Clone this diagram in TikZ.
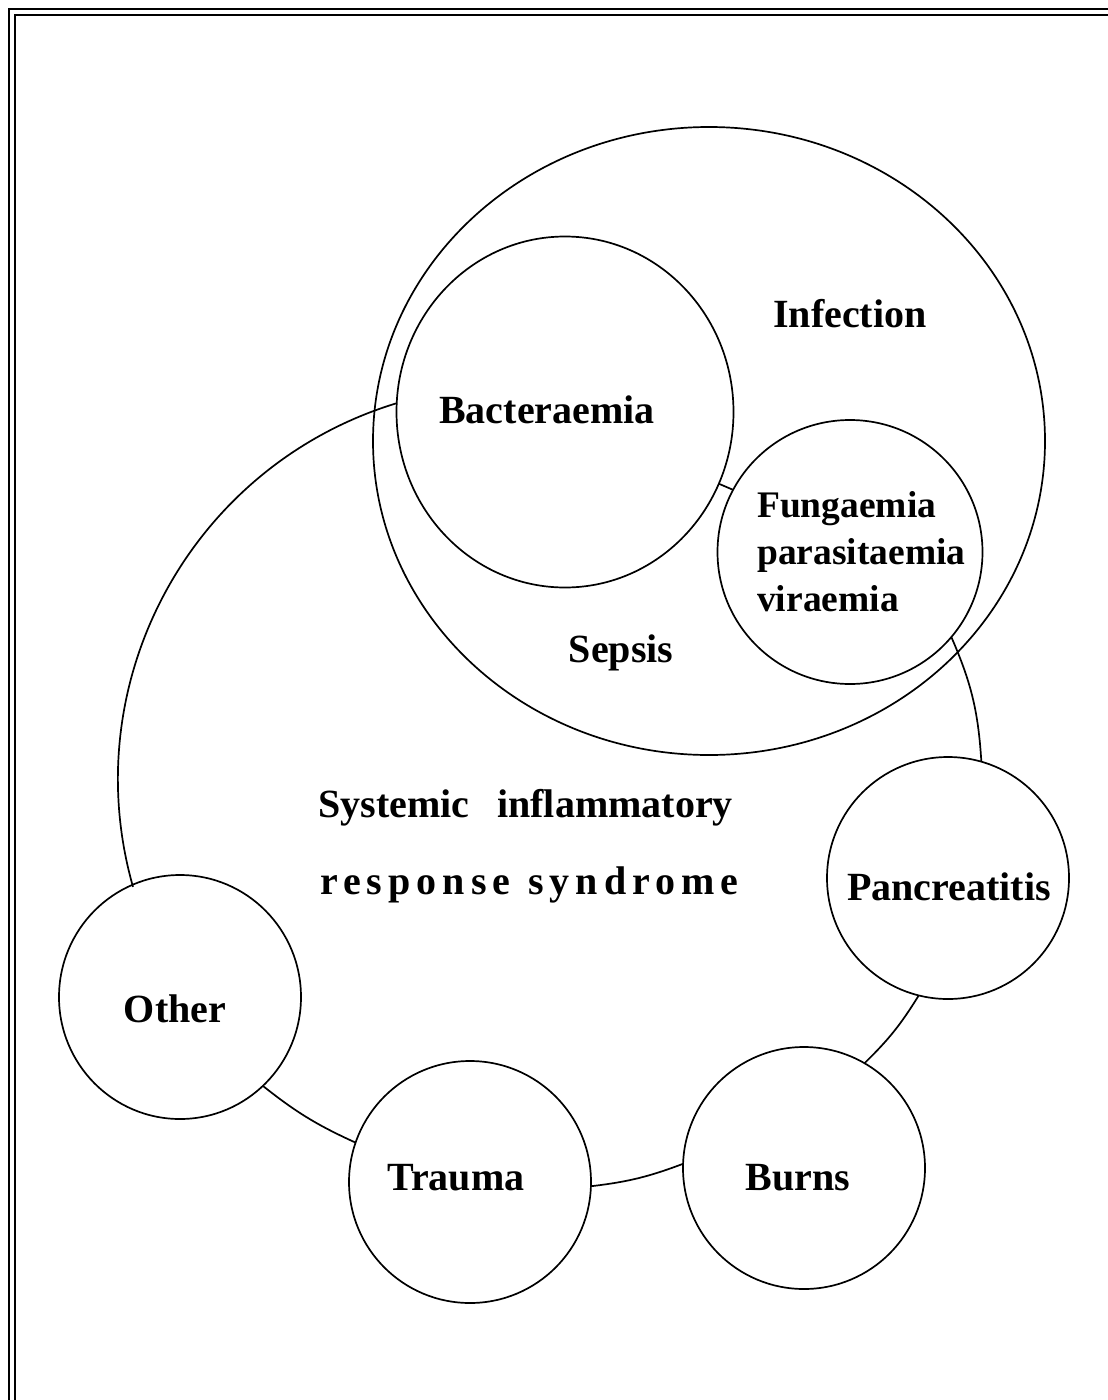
\documentclass[tikz,border=0pt]{standalone}
\usepackage{fontspec}
\setmainfont{Liberation Serif}
\usetikzlibrary{shapes.geometric}
\begin{document}
\begin{tikzpicture}[x=1pt,y=-1pt,
  ring/.style={draw, line width=1.7pt, ellipse, inner sep=0pt, outer sep=0pt},
  lbl/.style={font=\fontsize{40}{47}\selectfont\bfseries, inner sep=0pt, anchor=base},
  small/.style={lbl, font=\fontsize{37.5}{45}\selectfont\bfseries, anchor=base west},
  link/.style={line width=1.7pt},
  frame/.style={line width=2.2pt}]
\useasboundingbox (0,0) rectangle (1108,1400);
\fill[white] (0,0) rectangle (1108,1400);
% page frame
\draw[frame] (9,1400) -- (9,9) -- (1108,9);
\draw[frame] (15,1400) -- (15,15) -- (1108,15);
% sets
\node[ring, minimum width=672pt, minimum height=628pt] (infection) at (709,441) {};
\node[ring, minimum width=337pt, minimum height=351pt] (bact) at (565,412) {};
\node[ring, minimum width=265pt, minimum height=264pt] (fung) at (850,552) {};
\node[ring, minimum width=242pt, minimum height=242pt] (panc) at (948,878) {};
\node[ring, minimum width=242pt, minimum height=242pt] (burns) at (804,1168) {};
\node[ring, minimum width=242pt, minimum height=242pt] (trauma) at (470,1182) {};
\node[ring, minimum width=242pt, minimum height=244pt] (other) at (180,997) {};
% SIRS outline pieces
\draw[link] (bact.177) arc[start angle=253.1, end angle=164.1, radius=393];
\draw[link] (bact.-25) -- (fung.152);
\draw[link] (fung.-40) to[bend left=10] (panc.74);
\draw[link] (panc.-104) to[bend left=7] (burns.60);
\draw[link] (burns.178) to[bend left=7] (trauma.-2);
\draw[link] (trauma.161) to[bend left=7] (other.-47);
% labels
\node[lbl] (tInf) at (850,327) {Infection};
\node[lbl] (tBac) at (547,423) {Bacteraemia};
\node[small] (tF1) at (757,517) {Fungaemia};
\node[small] (tF2) at (757,564) {parasitaemia};
\node[small] (tF3) at (757,611) {viraemia};
\node[lbl] (tSep) at (621,662) {Sepsis};
\node[lbl, anchor=base west] (tS1) at (318,817) {Systemic\hspace{28pt}inflammatory};
\node[lbl, anchor=base west] (tS2) at (320,894) {\addfontfeature{LetterSpace=15}response\hspace{18pt}syndrome};
\node[lbl] (tPan) at (949,900) {Pancreatitis};
\node[lbl] (tOth) at (175,1022) {Other};
\node[lbl] (tTra) at (456,1190) {Trauma};
\node[lbl] (tBur) at (798,1190) {Burns};
\end{tikzpicture}
\end{document}
